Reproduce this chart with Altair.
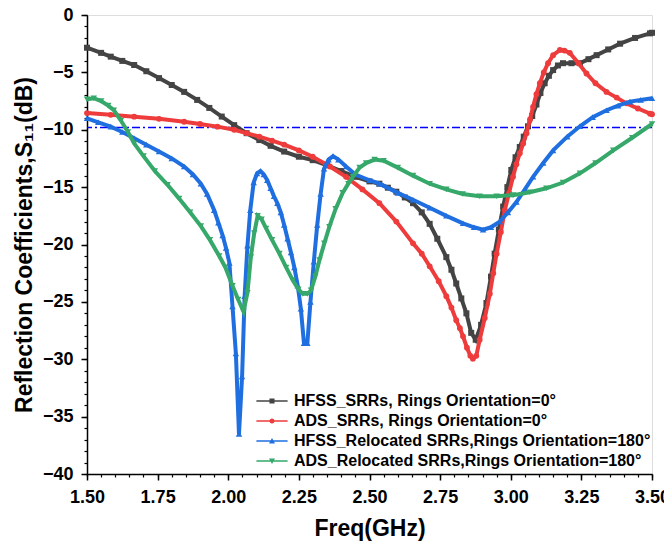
import altair as alt
import pandas as pd

# ---------------- data ----------------
series_names = [
    "HFSS_SRRs, Rings Orientation=0°",
    "ADS_SRRs, Rings Orientation=0°",
    "HFSS_Relocated SRRs,Rings Orientation=180°",
    "ADS_Relocated SRRs,Rings Orientation=180°",
]
series_colors = ["#444444", "#ee3b3b", "#1f6fe0", "#35a86a"]
series_shapes = ["square", "circle", "triangle-up", "triangle-down"]

hfss_srr_f = [1.50, 1.55, 1.584, 1.625, 1.667, 1.71, 1.755, 1.80, 1.844, 1.89, 1.933, 1.977,
              2.021, 2.065, 2.11, 2.15, 2.198, 2.25, 2.299, 2.35, 2.40, 2.45, 2.50, 2.535,
              2.565, 2.595, 2.625, 2.654, 2.685, 2.713, 2.74, 2.772, 2.79, 2.807, 2.825,
              2.843, 2.86, 2.876, 2.895, 2.914, 2.93, 2.943, 2.958, 2.973, 2.988, 3.002,
              3.017, 3.032, 3.046, 3.061, 3.076, 3.091, 3.105, 3.12, 3.135, 3.15, 3.167,
              3.185, 3.215, 3.245, 3.275, 3.304, 3.345, 3.387, 3.44, 3.493, 3.50]
hfss_srr_s = [-2.85, -3.3, -3.63, -4.0, -4.36, -4.9, -5.5, -6.1, -6.7, -7.4, -8.1, -8.85,
              -9.6, -10.3, -10.9, -11.4, -11.9, -12.35, -12.65, -13.1, -13.6, -14.1, -14.5, -14.7,
              -15.05, -15.4, -15.9, -16.4, -17.2, -18.2, -19.5, -21.1, -22.2, -23.4, -24.7,
              -26.0, -27.7, -28.3, -27.0, -25.1, -22.8, -20.8, -18.7, -16.7, -15.0, -13.5,
              -12.4, -11.5, -10.6, -9.7, -8.8, -7.8, -6.8, -5.95, -5.3, -4.8, -4.4,
              -4.2, -4.2, -4.2, -3.85, -3.5, -3.0, -2.5, -2.0, -1.6, -1.55]

ads_srr_f = [1.50, 1.584, 1.667, 1.755, 1.844, 1.90, 1.962, 2.021, 2.065, 2.11, 2.155, 2.198,
             2.25, 2.299, 2.36, 2.417, 2.475, 2.535, 2.595, 2.654, 2.685, 2.713, 2.745, 2.772,
             2.79, 2.807, 2.82, 2.831, 2.845, 2.857, 2.866, 2.878, 2.89, 2.908, 2.926, 2.938,
             2.95, 2.965, 2.979, 2.994, 3.008, 3.02, 3.032, 3.044, 3.056, 3.068, 3.079, 3.091,
             3.103, 3.117, 3.132, 3.15, 3.174, 3.19, 3.209, 3.24, 3.268, 3.30, 3.339, 3.375,
             3.41, 3.45, 3.493, 3.50]
ads_srr_s = [-8.55, -8.7, -8.86, -9.05, -9.3, -9.5, -9.73, -10.0, -10.3, -10.6, -10.95, -11.3,
             -11.8, -12.35, -13.2, -14.1, -15.2, -16.4, -18.0, -19.9, -20.8, -21.9, -23.2, -24.5,
             -25.5, -26.6, -27.3, -28.0, -29.0, -29.7, -29.95, -29.7, -28.3, -26.4, -24.3, -22.5,
             -20.8, -18.9, -17.0, -15.5, -14.1, -13.0, -12.05, -11.2, -10.3, -9.1, -8.0, -6.9,
             -5.95, -5.0, -4.2, -3.5, -3.05, -3.1, -3.3, -4.2, -5.1, -5.95, -6.7, -7.2,
             -7.7, -8.15, -8.6, -8.65]

hfss_rel_f = [1.50, 1.54, 1.584, 1.625, 1.667, 1.71, 1.755, 1.80, 1.844, 1.875, 1.903, 1.925,
              1.95, 1.965, 1.98, 1.992, 2.004, 2.015, 2.027, 2.038, 2.049, 2.058, 2.068, 2.078,
              2.09, 2.102, 2.114, 2.126, 2.138, 2.15, 2.162, 2.174, 2.186, 2.198, 2.21, 2.222,
              2.234, 2.246, 2.257, 2.268, 2.28, 2.291, 2.303, 2.315, 2.327, 2.339, 2.355, 2.371,
              2.39, 2.417, 2.45, 2.50, 2.535, 2.60, 2.654, 2.713, 2.772, 2.831, 2.87, 2.902,
              2.93, 2.961, 2.99, 3.02, 3.05, 3.079, 3.115, 3.15, 3.20, 3.245, 3.29, 3.339,
              3.38, 3.422, 3.46, 3.50]
hfss_rel_s = [-9.0, -9.35, -9.73, -10.2, -10.75, -11.3, -11.9, -12.5, -13.2, -13.9, -14.7, -15.6,
              -17.0, -18.1, -19.2, -20.3, -21.6, -25.4, -29.5, -36.5, -31.5, -24.5, -20.1, -17.0,
              -14.6, -13.8, -13.6, -13.9, -14.4, -15.1, -15.8, -16.4, -17.2, -18.3, -19.5, -20.7,
              -22.0, -23.6, -25.6, -28.6, -28.6, -25.0, -21.5, -18.3, -15.6, -13.4, -12.6, -12.3,
              -12.6, -13.2, -13.9, -14.4, -14.7, -15.5, -16.1, -16.8, -17.5, -18.15, -18.5, -18.7,
              -18.5, -18.0, -17.2, -16.3, -15.2, -14.1, -12.9, -11.8, -10.6, -9.7, -8.9, -8.3,
              -7.9, -7.55, -7.4, -7.25]

ads_rel_f = [1.50, 1.524, 1.55, 1.575, 1.595, 1.62, 1.645, 1.667, 1.70, 1.74, 1.785, 1.826,
             1.865, 1.903, 1.935, 1.968, 1.99, 2.015, 2.035, 2.054, 2.068, 2.08, 2.092, 2.104,
             2.118, 2.134, 2.155, 2.181, 2.205, 2.228, 2.248, 2.264, 2.28, 2.293, 2.308, 2.323,
             2.34, 2.358, 2.38, 2.405, 2.425, 2.441, 2.465, 2.488, 2.518, 2.55, 2.60, 2.654,
             2.713, 2.772, 2.83, 2.89, 2.95, 3.008, 3.067, 3.126, 3.185, 3.245, 3.30, 3.363,
             3.43, 3.50]
ads_rel_s = [-7.35, -7.25, -7.5, -7.9, -8.3, -9.2, -10.2, -11.2, -12.3, -13.6, -14.8, -16.0,
             -17.2, -18.4, -19.6, -21.0, -22.0, -23.6, -24.8, -25.85, -24.2, -21.1, -19.0, -17.5,
             -17.8, -18.6, -19.6, -20.8, -22.0, -23.1, -23.9, -24.3, -24.3, -24.0, -22.8, -21.35,
             -19.9, -18.45, -16.9, -15.5, -14.7, -14.1, -13.3, -12.9, -12.6, -12.7, -13.3, -14.0,
             -14.7, -15.2, -15.6, -15.8, -15.8, -15.7, -15.45, -15.1, -14.6, -13.8, -12.9, -11.8,
             -10.7, -9.5]

ref_level = [-9.8]

x_major = [1.50, 1.75, 2.00, 2.25, 2.50, 2.75, 3.00, 3.25, 3.50]
x_minor = [round(1.5 + 0.05 * i, 2) for i in range(41)]
y_major = [0, -5, -10, -15, -20, -25, -30, -35, -40]
y_minor = list(range(0, -41, -1))

all_f = [hfss_srr_f, ads_srr_f, hfss_rel_f, ads_rel_f]
all_s = [hfss_srr_s, ads_srr_s, hfss_rel_s, ads_rel_s]

frames = []
for name, f, s in zip(series_names, all_f, all_s):
    frames.append(pd.DataFrame({"series": name, "freq": f, "s11": s, "idx": range(len(f))}))
df = pd.concat(frames, ignore_index=True)

FONT = "Liberation Sans"
xscale = alt.Scale(domain=[1.5, 3.5], nice=False, zero=False)
yscale = alt.Scale(domain=[-40, 0], nice=False, zero=False)

x_major_axis = alt.Axis(values=x_major, format=".2f", title="Freq(GHz)", labelFont=FONT,
                        labelFontSize=18, labelFontWeight="bold", labelColor="black",
                        titleFont=FONT, titleFontSize=23, titleFontWeight="bold",
                        titleColor="black", tickSize=6, tickWidth=1.5, tickColor="black",
                        domainColor="black", domainWidth=1.5, labelPadding=8,
                        titlePadding=11, labelFlush=False, grid=False, orient="bottom")
y_major_axis = alt.Axis(values=y_major, title="Reflection Coefficients,S₁₁(dB)",
                        labelFont=FONT, labelFontSize=18, labelFontWeight="bold",
                        labelColor="black", titleFont=FONT, titleFontSize=23,
                        titleFontWeight="bold", titleColor="black", tickSize=6,
                        tickWidth=1.5, tickColor="black", domainColor="black",
                        domainWidth=1.5, labelPadding=8, titlePadding=6,
                        labelFlush=False, grid=False, orient="left")
x_minor_axis = alt.Axis(values=x_minor, labels=False, title=None, tickSize=3,
                        tickWidth=1.2, tickColor="black", domain=False, grid=False,
                        orient="bottom")
y_minor_axis = alt.Axis(values=y_minor, labels=False, title=None, tickSize=3,
                        tickWidth=1.2, tickColor="black", domain=False, grid=False,
                        orient="left")

layers = []

# reference -10 dB line
ref_df = pd.DataFrame({"y": ref_level})
layers.append(
    alt.Chart(ref_df).mark_rule(color="#0000ff", strokeWidth=1.6, strokeDash=[8, 3, 2, 3])
    .encode(y=alt.Y("y:Q", scale=yscale, axis=None))
)

marker_sizes = [36, 34, 42, 42]
for i, (name, col, shp) in enumerate(zip(series_names, series_colors, series_shapes)):
    sub = df[df["series"] == name]
    xa = x_major_axis if i == 0 else None
    ya = y_major_axis if i == 0 else None
    layers.append(
        alt.Chart(sub).mark_line(color=col, strokeWidth=4)
        .encode(x=alt.X("freq:Q", scale=xscale, axis=xa),
                y=alt.Y("s11:Q", scale=yscale, axis=ya),
                order="idx:Q")
    )
    xm = x_minor_axis if i == 0 else None
    ym = y_minor_axis if i == 0 else None
    layers.append(
        alt.Chart(sub).mark_point(shape=shp, filled=True, color=col, opacity=1,
                                  size=marker_sizes[i], strokeWidth=0)
        .encode(x=alt.X("freq:Q", scale=xscale, axis=xm),
                y=alt.Y("s11:Q", scale=yscale, axis=ym))
    )

# legend-only layer (line + marker symbols)
LINE = "M-5.2,-0.25L5.2,-0.25L5.2,0.25L-5.2,0.25Z "
legend_paths = [
    LINE + "M-0.85,-0.85L0.85,-0.85L0.85,0.85L-0.85,0.85Z",
    LINE + "M-0.85,0A0.85,0.85,0,1,1,0.85,0A0.85,0.85,0,1,1,-0.85,0Z",
    LINE + "M0,-1L1,0.8L-1,0.8Z",
    LINE + "M0,1L-1,-0.8L1,-0.8Z",
]
leg = dict(title=None, orient="none", legendX=177, legendY=378, symbolSize=36,
           labelFont=FONT, labelFontSize=16, labelFontWeight="bold", labelColor="black",
           labelOffset=14, rowPadding=4, padding=0, symbolStrokeWidth=0,
           labelLimit=500)
layers.append(
    alt.Chart(df).transform_filter("false").mark_point(filled=True, opacity=1)
    .encode(color=alt.Color("series:N", scale=alt.Scale(domain=series_names, range=series_colors),
                            legend=alt.Legend(**leg)),
            shape=alt.Shape("series:N", scale=alt.Scale(domain=series_names, range=legend_paths),
                            legend=alt.Legend(**leg)))
)

chart = (
    alt.layer(*layers)
    .resolve_axis(x="independent", y="independent")
    .properties(width=565, height=459,
                padding={"left": 79, "top": 7, "right": 12, "bottom": 68},
                autosize=alt.AutoSizeParams(type="none"))
    .configure_view(stroke="black", strokeWidth=1.5)
    .configure(background="white")
)

chart.save("out.html", embed_options={"renderer": "svg", "actions": False})
